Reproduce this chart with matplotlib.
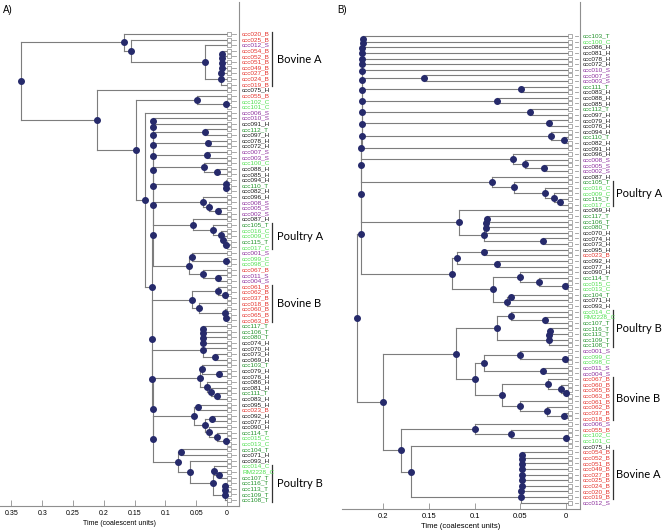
import matplotlib
matplotlib.use("Agg")
import matplotlib.pyplot as plt

# Trees in Newick-like form: leaf names, node age (coalescent units) after ')'
# ---- panel A ----
BOVINE_A_A = ("(ccc020_B,(ccc025_B,(ccc012_S,((((((ccc054_B,ccc052_B)0.0078,ccc051_B)0.0081,"
              "ccc049_B)0.0084,ccc027_B)0.0087,ccc024_B)0.009,ccc019_B)0.0093)0.0357)0.156)0.167")
UPPER_A = ("(((((((((ccc010_S,ccc091_H)0.1200,(ccc112_T,ccc097_H)0.035)0.1201,"
           "(ccc078_H,ccc072_H)0.031)0.1202,(ccc007_S,ccc003_S)0.032)0.1203,"
           "(ccc100_C,(ccc088_H,ccc085_H)0.017)0.037)0.1204,(ccc094_H,(ccc110_T,ccc082_H)0.001)0.002)0.1205,"
           "(ccc096_H,(ccc008_S,(ccc005_S,ccc002_S)0.014)0.029)0.039)0.1206,"
           "(ccc087_H,(ccc105_T,(ccc016_C,(ccc009_C,(ccc115_T,ccc017_C)0.002)0.006)0.010)0.022)0.055)0.1207,"
           "((ccc001_S,(ccc099_C,ccc098_C)0.0008)0.057,(ccc067_B,(ccc011_S,ccc004_S)0.014)0.039)0.061)0.1208")
BOVINE_B_A = ("((ccc061_B,(ccc062_B,ccc037_B)0.004)0.015,"
              "(ccc018_B,(ccc060_B,(ccc065_B,ccc063_B)0.001)0.004)0.045)0.056")
C52_A = ("(((((ccc117_T,ccc106_T)0.0385,ccc080_T)0.0388,ccc074_H)0.0391,ccc070_H)0.0394,"
         "(ccc073_H,ccc069_H)0.0195)0.0397")
C59_A = ("((ccc103_T,(ccc079_H,ccc076_H)0.0125)0.040,"
         "(ccc086_H,(ccc081_H,(ccc111_T,ccc083_H)0.0168)0.026)0.032)0.044")
C66_A = ("((ccc095_H,ccc023_B)0.0465,((ccc092_H,ccc077_H)0.024,"
         "(ccc090_H,(ccc114_T,(ccc015_C,ccc013_C)0.0008)0.0168)0.030)0.036)0.054")
POULTRY_B_A = ("((ccc104_T,ccc071_H)0.075,(ccc093_H,((ccc014_C,(RM2228_C,ccc107_T)0.0125)0.021,"
               "(((ccc116_T,ccc113_T)0.003,ccc109_T)0.0035,ccc108_T)0.004)0.0225)0.0595)0.0795")
LOWER_A = "(" + BOVINE_B_A + ",(" + C52_A + ",(" + C59_A + ",(" + C66_A + "," + POULTRY_B_A + \
          ")0.1208)0.1209)0.1210)0.1211"
TREE_A = ("(" + BOVINE_A_A + ",(ccc075_H,((ccc055_B,(ccc102_C,ccc101_C)0.0008)0.048,"
          "(ccc006_S,(" + UPPER_A + "," + LOWER_A + ")0.1212)0.1336)0.1472)0.2105)0.3344")

# ---- panel B ----
T2_B = ("(ccc069_H,((((ccc117_T,ccc106_T)0.086,ccc080_T)0.087,ccc070_H)0.088,"
        "(ccc074_H,ccc073_H)0.025)0.09)0.117")
U5_B = ("(((ccc095_H,ccc023_B)0.09,(ccc092_H,ccc077_H)0.075)0.119,"
        "((ccc090_H,(ccc114_T,(ccc015_C,ccc013_C)0.001)0.03)0.05,"
        "((ccc104_T,ccc071_H)0.06,ccc093_H)0.065)0.08)0.125")
TOP_B = ("(" * 17 + "ccc103_T,ccc100_C)0.2225,ccc086_H)0.2226,ccc081_H)0.2227,ccc078_H)0.2228,"
         "ccc072_H)0.2229,ccc010_S)0.2230,(ccc007_S,ccc003_S)0.155)0.2231,(ccc111_T,ccc083_H)0.049)0.2232,"
         "(ccc088_H,ccc085_H)0.075)0.2233,(ccc112_T,ccc097_H)0.039)0.2234,(ccc079_H,ccc076_H)0.0186)0.2235,"
         "(ccc094_H,(ccc110_T,ccc082_H)0.002)0.0164)0.2236,ccc091_H)0.2237,"
         "(ccc096_H,(ccc008_S,(ccc005_S,ccc002_S)0.024)0.045)0.058)0.2238,"
         "(ccc087_H,(ccc105_T,(ccc016_C,(ccc009_C,(ccc115_T,ccc017_C)0.0066)0.013)0.023)0.057)0.081)0.2239,"
         + T2_B + ")0.2240," + U5_B + ")0.2241")
POULTRY_B_B = ("((ccc014_C,(RM2228_C,ccc107_T)0.023)0.06,"
               "(((ccc116_T,ccc113_T)0.018,ccc109_T)0.0182,ccc108_T)0.0185)0.075")
S1_B = "((ccc001_S,(ccc099_C,ccc098_C)0.001)0.05,(ccc011_S,ccc004_S)0.025)0.09"
BOVINE_B_B = ("((ccc067_B,(ccc060_B,(ccc065_B,ccc063_B)0.0005)0.005)0.02,"
              "(ccc061_B,(ccc062_B,(ccc037_B,ccc018_B)0.002)0.021)0.05)0.07")
BOVINE_A_B = ("(((((((((ccc054_B,ccc052_B)0.0480,ccc051_B)0.0481,ccc049_B)0.0482,ccc027_B)0.0483,"
              "ccc025_B)0.0484,ccc024_B)0.0485,ccc020_B)0.0486,ccc019_B)0.0487,ccc012_S)0.0488")
BOTTOM_B = ("((" + POULTRY_B_B + ",(" + S1_B + "," + BOVINE_B_B + ")0.1)0.12,"
            "((ccc006_S,(ccc055_B,(ccc102_C,ccc101_C)0.0005)0.06)0.1,"
            "(ccc075_H," + BOVINE_A_B + ")0.17)0.18)0.2")
TREE_B = "(" + TOP_B + "," + BOTTOM_B + ")0.2287"

CLADES_A = [("Bovine A", "ccc020_B", "ccc019_B"), ("Poultry A", "ccc105_T", "ccc017_C"),
            ("Bovine B", "ccc061_B", "ccc063_B"), ("Poultry B", "ccc014_C", "ccc108_T")]
CLADES_B = [("Poultry A", "ccc105_T", "ccc017_C"), ("Poultry B", "ccc014_C", "ccc108_T"),
            ("Bovine B", "ccc067_B", "ccc018_B"), ("Bovine A", "ccc054_B", "ccc019_B")]

TICKS_A = [0.35, 0.3, 0.25, 0.2, 0.15, 0.1, 0.05, 0]
TICKS_B = [0.2, 0.15, 0.1, 0.05, 0]

HOST_COLORS = {"B": "#e5332c", "S": "#8b2c9c", "H": "#1a1a1a", "T": "#22922b", "C": "#4fe04f"}
BRANCH = "#7d7d7d"
NODE = "#262a6b"

plt.rcParams["font.family"] = ["Liberation Sans", "DejaVu Sans"]


def parse(s):
    s = "".join(s.split())
    pos = 0

    def node():
        nonlocal pos
        if s[pos] == "(":
            pos += 1
            kids = [node()]
            while s[pos] == ",":
                pos += 1
                kids.append(node())
            pos += 1
            start = pos
            while pos < len(s) and s[pos] not in ",)":
                pos += 1
            return (float(s[start:pos]), kids)
        start = pos
        while s[pos] not in ",)":
            pos += 1
        return s[start:pos]

    return node()


def draw_tree(ax, newick, tip, dash):
    leaves, nodes = [], []

    def walk(n):
        if isinstance(n, str):
            leaves.append(n)
            return 0.0, len(leaves) - 1
        age, kids = n
        pts = [walk(k) for k in kids]
        y = (pts[0][1] + pts[-1][1]) / 2
        for a, ky in pts:
            ax.plot([age, tip if a == 0 else a], [ky, ky], color=BRANCH, lw=0.8, zorder=1)
        ax.plot([age, age], [pts[0][1], pts[-1][1]], color=BRANCH, lw=0.8, zorder=1)
        nodes.append((age, y))
        return age, y

    walk(parse(newick))
    ax.plot([a for a, _ in nodes], [y for _, y in nodes], "o", color=NODE, ms=4.0, zorder=3)
    ys = list(range(len(leaves)))
    ax.plot([tip] * len(ys), ys, "s", ms=2.4, mfc="white", mec="#8a8a8a", mew=0.5, zorder=2)
    for y in ys:
        ax.plot(dash, [y, y], color="#9a9a9a", lw=0.6, zorder=1)
    return leaves


def style_axes(ax, ticks, xlim, ylim, xlabel_size):
    ax.set_xlim(xlim)
    ax.set_ylim(ylim)
    ax.spines["top"].set_visible(False)
    ax.spines["left"].set_visible(False)
    for side in ("bottom", "right"):
        ax.spines[side].set_color("#8f8f8f")
        ax.spines[side].set_linewidth(0.8)
    ax.set_yticks([])
    ax.set_xticks(ticks)
    ax.set_xticklabels([f"{t:g}" for t in ticks])
    ax.tick_params(axis="x", direction="in", length=4, width=0.6, color="#8f8f8f",
                   labelsize=xlabel_size, pad=3)
    ax.set_xlabel("Time (coalescent units)", fontsize=xlabel_size, labelpad=2)
    ax.patch.set_alpha(0)


def label_leaves(ax, leaves, clades, label_x, bracket_x, text_x):
    tr = ax.get_yaxis_transform()
    for i, name in enumerate(leaves):
        ax.text(label_x, i, name, transform=tr, fontsize=4.6, va="center", ha="left",
                color=HOST_COLORS[name[-1]], clip_on=False)
    for title, first, last in clades:
        y0, y1 = leaves.index(first), leaves.index(last)
        ax.plot([bracket_x, bracket_x], [y0 - 0.3, y1 + 0.3], color="#333333", lw=0.9,
                transform=tr, clip_on=False)
        ax.text(text_x, (y0 + y1) / 2, title, transform=tr, fontsize=8, va="center",
                ha="left", family="Lato", clip_on=False)


fig = plt.figure(figsize=(6.64, 5.30), dpi=100)

# panel A: x pixel = 227 - 616 t, leaf i at y pixel 34 + 5.614 i
axA = fig.add_axes([0 / 664, 24 / 530, 239 / 664, 504 / 530])
leaves_a = draw_tree(axA, TREE_A, -0.003, [-0.008, -0.0145])
style_axes(axA, TICKS_A, (0.3685, -0.0195), (84.07, -5.70), 5)
label_leaves(axA, leaves_a, CLADES_A, 1 + 3 / 239, 1.138, 1.159)

# panel B: x pixel = 566 - 914 t, leaf i at y pixel 36 + 5.623 i
axB = fig.add_axes([341.7 / 664, 21 / 530, 238.3 / 664, 507 / 530])
leaves_b = draw_tree(axB, TREE_B, -0.0044, [-0.0098, -0.0135])
style_axes(axB, TICKS_B, (0.2454, -0.0153), (84.12, -6.05), 5.5)
label_leaves(axB, leaves_b, CLADES_B, 1 + 3 / 238.3, 1.1385, 1.152)

fig.text(3 / 664, 1 - 10 / 530, "A)", fontsize=7, va="center")
fig.text(337 / 664, 1 - 10 / 530, "B)", fontsize=7, va="center")

fig.savefig("out.png", dpi=100)
